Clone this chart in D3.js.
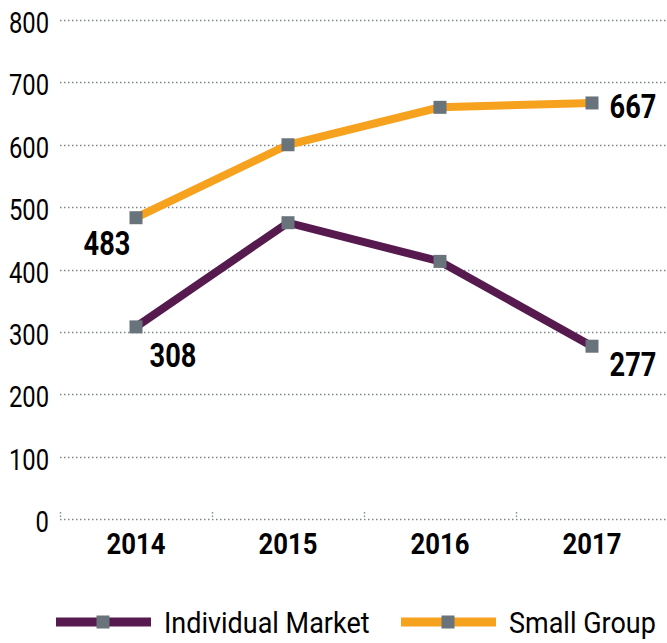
<!DOCTYPE html>
<html>
<head>
<meta charset="utf-8">
<script src="https://cdn.jsdelivr.net/npm/d3@7"></script>
<style>
  body { margin: 0; background: #fff; }
  svg text { font-family: Roboto, "Noto Sans", sans-serif; fill: #000; }
</style>
</head>
<body>
<svg id="chart"></svg>
<script>
const years = ['2014', '2015', '2016', '2017'];
const individualMarket = [308, 475, 413, 277];
const smallGroup = [483, 600, 660, 667];
const yTicks = [0, 100, 200, 300, 400, 500, 600, 700, 800];

const PURPLE = '#561a4f';
const ORANGE = '#f7a21f';
const MARKER = '#69737b';

const width = 667;
const height = 643;
const margin = { top: 20, right: 0, bottom: 124, left: 60 };
const innerWidth = width - margin.left - margin.right;
const innerHeight = height - margin.top - margin.bottom;

const svg = d3.select('#chart').attr('width', width).attr('height', height);
const g = svg.append('g').attr('transform', `translate(${margin.left}, ${margin.top})`);

const x = d3.scaleBand().domain(years).range([0, innerWidth + 1]);
const y = d3.scaleLinear().domain([0, 800]).range([innerHeight, 0]);

// condensed look: squeeze glyphs to a fraction of their natural width
const squeeze = (sel, sx) => sel.each(function() {
  const len = this.getComputedTextLength();
  d3.select(this)
    .attr('textLength', len * sx)
    .attr('lengthAdjust', 'spacingAndGlyphs');
});

// gridlines
g.append('g')
  .selectAll('line')
  .data(yTicks)
  .enter().append('line')
    .attr('x1', 0)
    .attr('x2', innerWidth)
    .attr('y1', d => Math.round(y(d)) + 0.5)
    .attr('y2', d => Math.round(y(d)) + 0.5)
    .attr('stroke', '#7d858c')
    .attr('stroke-width', 1.3)
    .attr('stroke-dasharray', '1.5,2.5');

// small vertical ticks at band edges
g.append('g')
  .selectAll('line')
  .data(years)
  .enter().append('line')
    .attr('x1', d => Math.round(x(d)) + 0.5)
    .attr('x2', d => Math.round(x(d)) + 0.5)
    .attr('y1', innerHeight - 7)
    .attr('y2', innerHeight)
    .attr('stroke', '#7d858c')
    .attr('stroke-width', 1.3)
    .attr('stroke-dasharray', '1.5,2');

// y labels
g.append('g')
  .selectAll('text')
  .data(yTicks)
  .enter().append('text')
    .attr('x', -11)
    .attr('y', d => y(d) + 13)
    .attr('text-anchor', 'end')
    .attr('font-size', 29)
    .text(d => d)
    .call(squeeze, 0.82);

// x labels
g.append('g')
  .selectAll('text')
  .data(years)
  .enter().append('text')
    .attr('x', d => x(d) + x.bandwidth() / 2)
    .attr('y', innerHeight + 35)
    .attr('text-anchor', 'middle')
    .attr('font-size', 29.5)
    .attr('font-weight', 'bold')
    .text(d => d)
    .call(squeeze, 0.87);

const cx = d => x(d) + x.bandwidth() / 2;
const line = d3.line().x(d => cx(d.year)).y(d => y(d.value));

const series = [
  { name: 'Small Group', color: ORANGE, values: smallGroup },
  { name: 'Individual Market', color: PURPLE, values: individualMarket },
];

series.forEach(s => {
  const pts = years.map((yr, i) => ({ year: yr, value: s.values[i] }));
  g.append('path')
    .datum(pts)
    .attr('fill', 'none')
    .attr('stroke', s.color)
    .attr('stroke-width', 8)
    .attr('d', line);
  g.selectAll(null)
    .data(pts)
    .enter().append('rect')
      .attr('x', d => cx(d.year) - 6.5)
      .attr('y', d => y(d.value) - 6.5)
      .attr('width', 13)
      .attr('height', 13)
      .attr('fill', MARKER);
});

// value labels
const labels = [
  { year: '2014', value: smallGroup[0], dx: -29, dy: 37 },
  { year: '2014', value: individualMarket[0], dx: 37, dy: 40 },
  { year: '2017', value: smallGroup[3], dx: 41, dy: 15 },
  { year: '2017', value: individualMarket[3], dx: 41, dy: 30 },
];
g.append('g')
  .selectAll('text')
  .data(labels)
  .enter().append('text')
    .attr('x', d => cx(d.year) + d.dx)
    .attr('y', d => y(d.value) + d.dy)
    .attr('text-anchor', 'middle')
    .attr('font-size', 34)
    .attr('font-weight', 'bold')
    .text(d => d.value)
    .call(squeeze, 0.8);

// legend
const legend = svg.append('g').attr('transform', 'translate(0, 622)');
const legendItems = [
  { name: 'Individual Market', color: PURPLE, x: 56 },
  { name: 'Small Group', color: ORANGE, x: 401 },
];
legendItems.forEach(item => {
  legend.append('line')
    .attr('x1', item.x).attr('x2', item.x + 95)
    .attr('y1', 0).attr('y2', 0)
    .attr('stroke', item.color)
    .attr('stroke-width', 9);
  legend.append('rect')
    .attr('x', item.x + 47 - 6.5).attr('y', -6.5)
    .attr('width', 13).attr('height', 13)
    .attr('fill', MARKER);
  legend.append('text')
    .attr('x', item.x + 108)
    .attr('y', 11)
    .attr('font-size', 29)
    .text(item.name)
    .call(squeeze, 0.93);
});
</script>
</body>
</html>
